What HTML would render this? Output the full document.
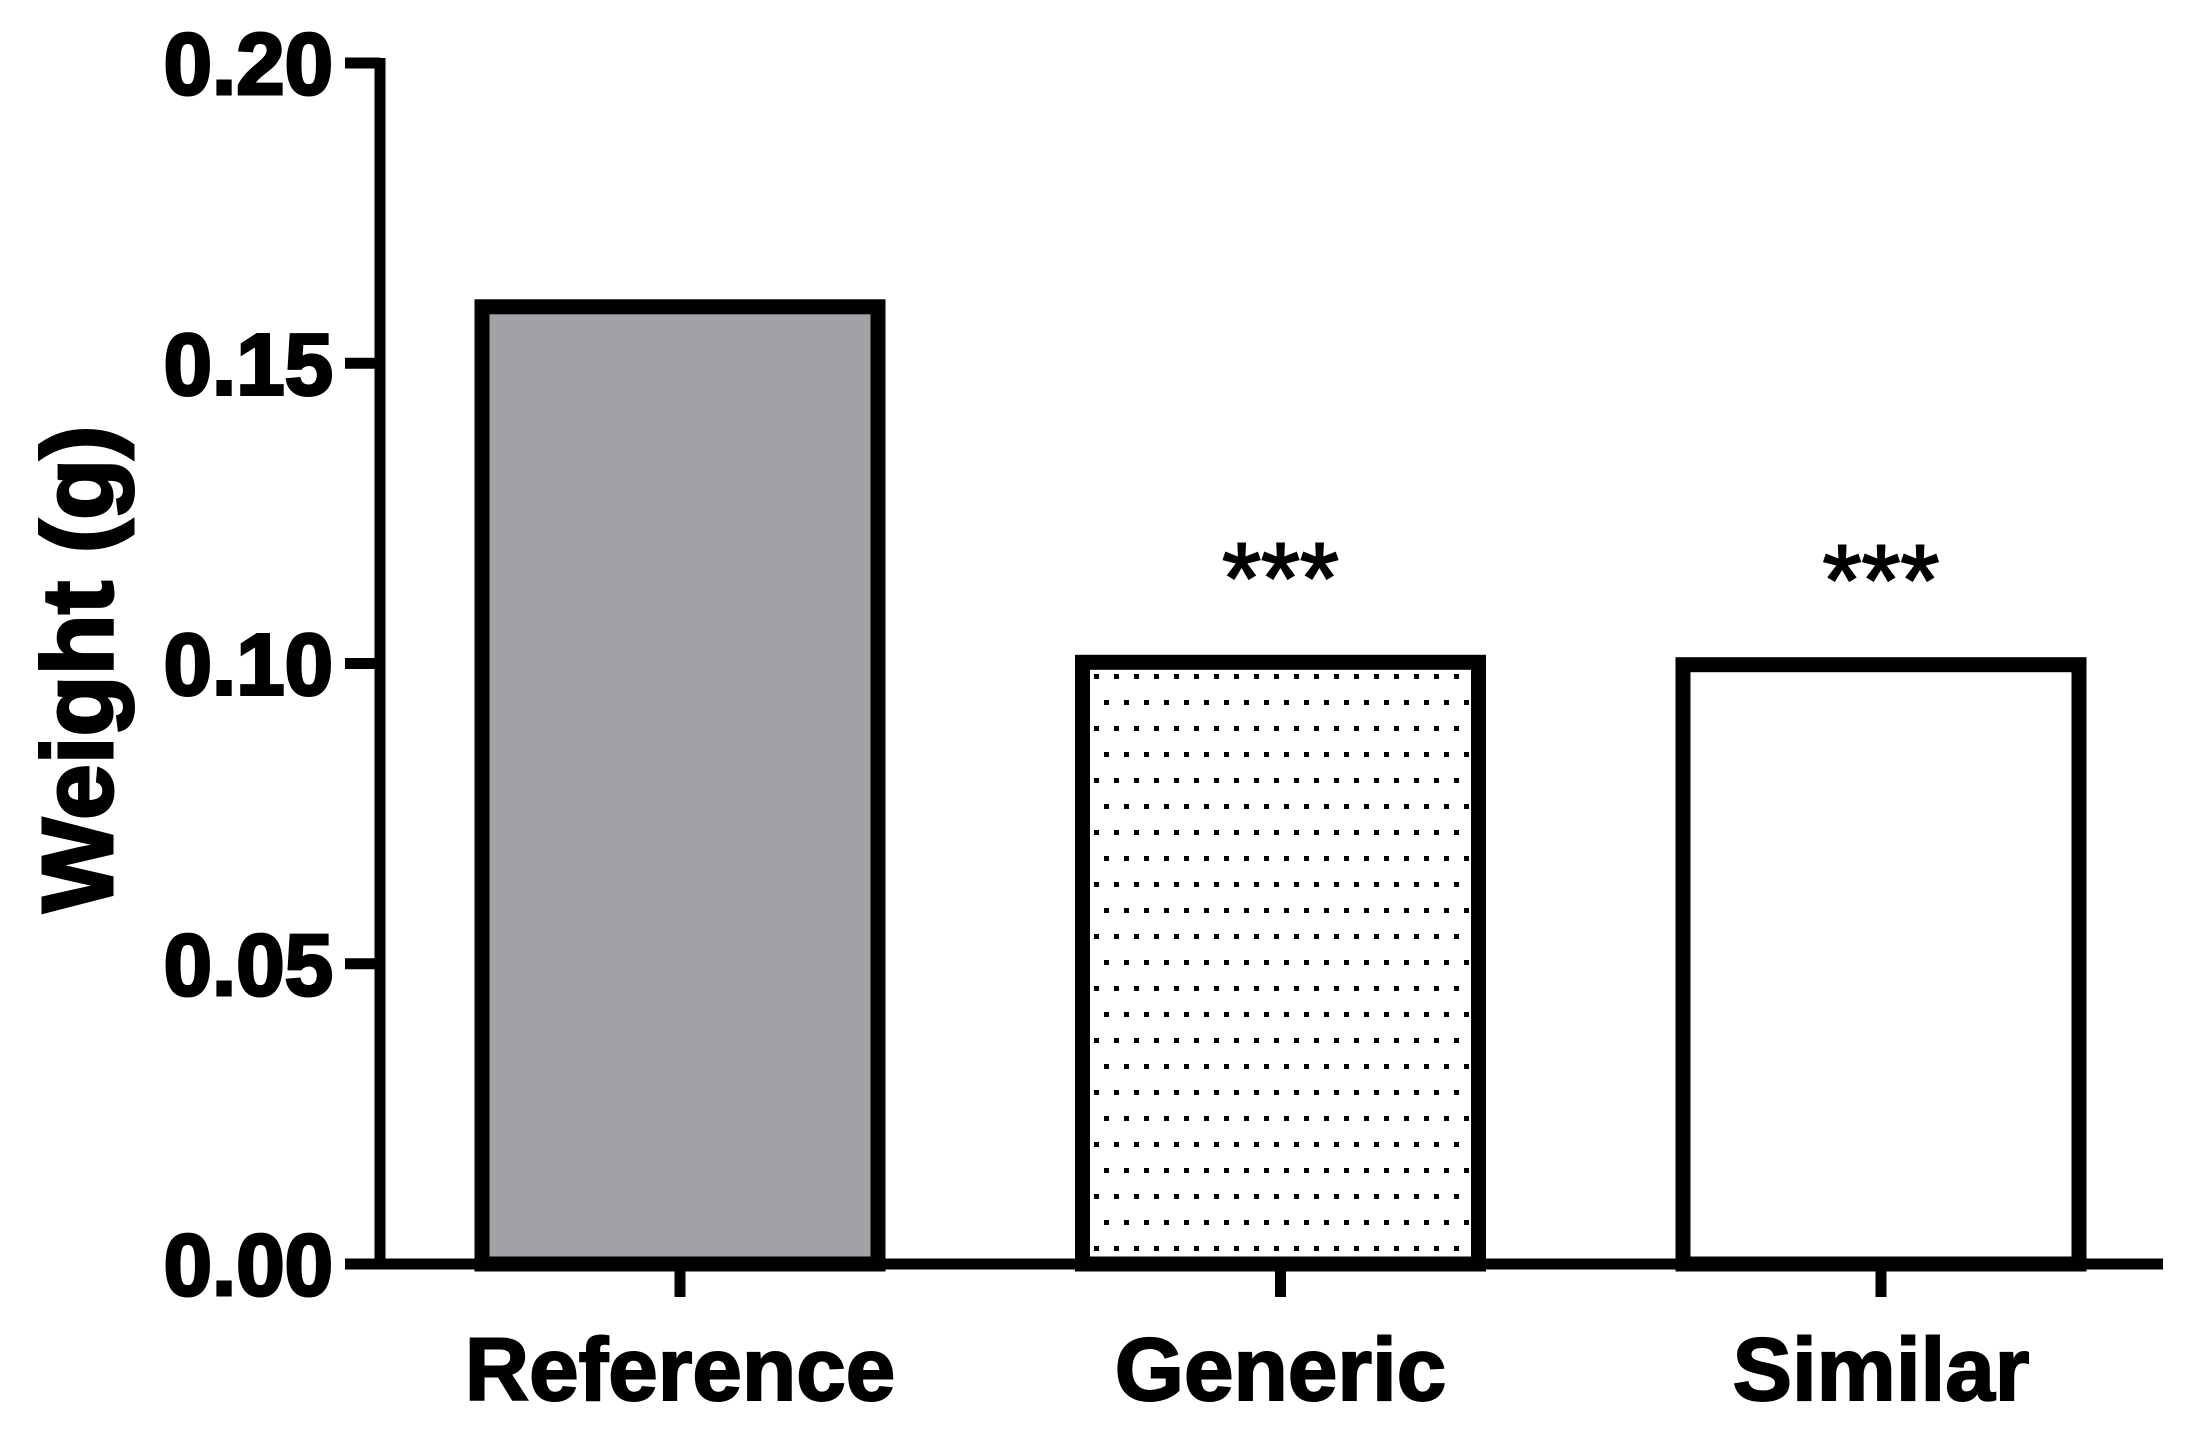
<!DOCTYPE html>
<html><head><meta charset="utf-8"><style>
html,body{margin:0;padding:0;background:#fff;}
svg{display:block;font-family:"Liberation Sans",Arial,sans-serif;}
</style></head><body>
<svg id="chart" width="2198" height="1434" viewBox="0 0 2198 1434" xmlns="http://www.w3.org/2000/svg">
<defs>
<pattern id="dots" width="20" height="52" patternUnits="userSpaceOnUse" x="1090" y="668">
<rect x="4" y="6" width="5" height="5" fill="#000"/>
<rect x="14" y="32" width="5" height="5" fill="#000"/>
</pattern>
</defs>
<g id="bars"></g>
<g id="axes"></g>
</svg>
<script>
const categories = ["Reference", "Generic", "Similar"];
const values = [0.1594, 0.1002, 0.0998];
const significance = ["", "***", "***"];
const yTicks = [0, 0.05, 0.10, 0.15, 0.20];
const yTickLabels = ["0.00", "0.05", "0.10", "0.15", "0.20"];

const NS = "http://www.w3.org/2000/svg";
const y0 = 1264, yTop = 63, yMax = 0.2;
function yScale(v){ return y0 - (v / yMax) * (y0 - yTop); }
const xCenters0 = 680, xStep = 600.5, barW = 396;
function xScale(i){ return xCenters0 + i * xStep; }
const fills = ["#a2a1a6", "url(#dots)", "#ffffff"];

function mk(tag, attrs, parent){
  const e = document.createElementNS(NS, tag);
  for (const k in attrs) e.setAttribute(k, attrs[k]);
  parent.appendChild(e);
  return e;
}
const bars = document.getElementById("bars");
const axes = document.getElementById("axes");

categories.forEach((c, i) => {
  const cx = xScale(i), top = yScale(values[i]);
  const r = mk("rect", {x: cx - barW/2, y: top, width: barW, height: y0 - top, fill: fills[i], stroke: "#000", "stroke-width": 15}, bars);
  
  
  if (significance[i]) {
    const t = mk("text", {x: cx, y: top - 50, "text-anchor": "middle", "font-size": 100, "font-weight": "normal", stroke: "#000", "stroke-width": 2}, bars);
    t.textContent = significance[i];
    
    
  }
  const tk = mk("line", {x1: cx, x2: cx, y1: y0, y2: 1297, stroke: "#000", "stroke-width": 11}, axes);
  
  
  const lb = mk("text", {x: cx, y: 1400, "text-anchor": "middle", "font-size": 89, "font-weight": "bold", stroke: "#000", "stroke-width": 2}, axes);
  lb.textContent = c;
  
  
});

const yAxis = mk("line", {x1: 380, x2: 380, y1: yTop - 5, y2: y0 + 5, stroke: "#000", "stroke-width": 11}, axes);


const xAxis = mk("line", {x1: 345, x2: 2163, y1: y0, y2: y0, stroke: "#000", "stroke-width": 11}, axes);



yTicks.forEach((v, i) => {
  const y = yScale(v);
  const t = mk("line", {x1: 345, x2: 380, y1: y, y2: y, stroke: "#000", "stroke-width": 11}, axes);
  
  
  const l = mk("text", {x: 333, y: y + 31, "text-anchor": "end", "font-size": 87, "font-weight": "bold", stroke: "#000", "stroke-width": 3}, axes);
  l.textContent = yTickLabels[i];
  
  
});

const yt = mk("text", {x: 0, y: 0, "text-anchor": "middle", "font-size": 100, "font-weight": "bold", stroke: "#000", "stroke-width": 3, transform: "translate(112,669) rotate(-90)"}, axes);
yt.textContent = "Weight (g)";


</script>
</body></html>
